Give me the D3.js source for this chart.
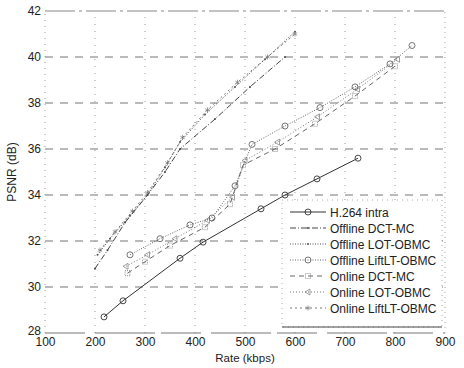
<!DOCTYPE html>
<html>
<head>
<meta charset="utf-8">
<script src="https://cdn.jsdelivr.net/npm/d3@7"></script>
<style>
  body { margin: 0; background: #fff; }
  text { font-family: "Liberation Sans", Arial, sans-serif; fill: #222; }
</style>
</head>
<body>
<div id="chart"></div>
<script>
// data
var xTicks = [100, 200, 300, 400, 500, 600, 700, 800, 900];
var yTicks = [28, 30, 32, 34, 36, 38, 40, 42];

var h264Rate = [218, 256, 370, 416, 532, 580, 644, 726];
var h264Psnr = [28.7, 29.4, 31.25, 31.95, 33.4, 34.0, 34.7, 35.6];

var offDctRate = [200, 225, 260, 305, 340, 370, 440, 510, 580];
var offDctPsnr = [30.8, 31.6, 32.8, 34.0, 35.0, 36.0, 37.3, 38.7, 40.0];

var offLotRate = [205, 230, 270, 305, 340, 370, 420, 480, 540, 600];
var offLotPsnr = [31.4, 32.1, 33.1, 34.0, 35.2, 36.3, 37.5, 38.7, 39.9, 41.1];

var offLiftRate = [270, 330, 390, 434, 480, 514, 580, 650, 720, 790, 834];
var offLiftPsnr = [31.4, 32.1, 32.7, 33.0, 34.4, 36.2, 37.0, 37.8, 38.7, 39.7, 40.5];

var onDctRate = [265, 300, 350, 420, 470, 496, 560, 640, 720, 800];
var onDctPsnr = [30.6, 31.1, 31.8, 32.6, 33.6, 35.3, 36.0, 37.1, 38.3, 39.6];

var onLotRate = [262, 305, 360, 425, 475, 500, 565, 645, 725, 805];
var onLotPsnr = [30.9, 31.4, 32.1, 32.9, 33.9, 35.5, 36.3, 37.4, 38.6, 39.9];

var onLiftRate = [210, 240, 275, 305, 345, 375, 425, 485, 545, 600];
var onLiftPsnr = [31.6, 32.4, 33.3, 34.1, 35.4, 36.5, 37.7, 38.9, 40.0, 41.0];

var names = ["H.264 intra", "Offline DCT-MC", "Offline LOT-OBMC", "Offline LiftLT-OBMC",
             "Online DCT-MC", "Online LOT-OBMC", "Online LiftLT-OBMC"];

var series = [
  {name: names[0], rate: h264Rate, psnr: h264Psnr, dash: null, marker: "circle", color: "#333"},
  {name: names[1], rate: offDctRate, psnr: offDctPsnr, dash: "6,2,1,2", marker: "dot", color: "#444"},
  {name: names[2], rate: offLotRate, psnr: offLotPsnr, dash: "1,1.5", marker: "dot", color: "#555"},
  {name: names[3], rate: offLiftRate, psnr: offLiftPsnr, dash: "1,1.5", marker: "circle", color: "#666"},
  {name: names[4], rate: onDctRate, psnr: onDctPsnr, dash: "5,4", marker: "square", color: "#666"},
  {name: names[5], rate: onLotRate, psnr: onLotPsnr, dash: "1,2", marker: "triangle", color: "#777"},
  {name: names[6], rate: onLiftRate, psnr: onLiftPsnr, dash: "2,3", marker: "star", color: "#777"}
];

var width = 464, height = 368;
var margin = {left: 45, right: 19, top: 11, bottom: 35};

var svg = d3.select("#chart").append("svg")
  .attr("width", width).attr("height", height);

var x = d3.scaleLinear().domain([100, 900]).range([margin.left, width - margin.right]);
var y = d3.scaleLinear().domain([28, 42]).range([height - margin.bottom, margin.top]);

// grid
svg.append("g").selectAll("line").data(yTicks.slice(1, -1)).enter().append("line")
  .attr("x1", x(100)).attr("x2", x(900))
  .attr("y1", function(d) { return y(d); }).attr("y2", function(d) { return y(d); })
  .attr("stroke", "#777").attr("stroke-width", 1.2).attr("stroke-dasharray", "8,7");
svg.append("g").selectAll("line").data(xTicks.slice(1, -1)).enter().append("line")
  .attr("y1", y(28)).attr("y2", y(42))
  .attr("x1", function(d) { return x(d); }).attr("x2", function(d) { return x(d); })
  .attr("stroke", "#999").attr("stroke-width", 1).attr("stroke-dasharray", "1,6");

// box
svg.append("line").attr("x1", x(100)).attr("x2", x(900)).attr("y1", y(42)).attr("y2", y(42))
  .attr("stroke", "#888").attr("stroke-width", 1.2).attr("stroke-dasharray", "30,4,3,4");
svg.append("line").attr("x1", x(100)).attr("x2", x(900)).attr("y1", y(28)).attr("y2", y(28))
  .attr("stroke", "#777").attr("stroke-width", 1).attr("stroke-dasharray", "40,10,60,6");
svg.append("line").attr("x1", x(100)).attr("x2", x(100)).attr("y1", y(28)).attr("y2", y(42))
  .attr("stroke", "#999").attr("stroke-width", 1).attr("stroke-dasharray", "1,5");
svg.append("line").attr("x1", x(900)).attr("x2", x(900)).attr("y1", y(28)).attr("y2", y(42))
  .attr("stroke", "#aaa").attr("stroke-width", 1).attr("stroke-dasharray", "1,4");

// axes
var xAxis = svg.append("g").attr("transform", "translate(0," + y(28) + ")")
  .call(d3.axisBottom(x).tickValues(xTicks).tickSize(0).tickPadding(4));
var yAxis = svg.append("g").attr("transform", "translate(" + (x(100) - 1) + ",0)")
  .call(d3.axisLeft(y).tickValues(yTicks).tickSize(0).tickPadding(3));
[xAxis, yAxis].forEach(function(a) {
  a.select(".domain").remove();
  a.selectAll("text").attr("font-size", 12).attr("fill", "#222")
    .attr("font-family", "'Liberation Sans', Arial, sans-serif");
});
// bottom-left y label sits a bit higher so it clears the "100"
yAxis.selectAll(".tick").filter(function(d) { return d === 28; })
  .select("text").attr("dy", "0.1em");

svg.append("text").attr("x", 245).attr("y", 362).attr("text-anchor", "middle")
  .attr("font-size", 11.5).text("Rate (kbps)");
svg.append("text").attr("transform", "translate(16,172) rotate(-90)")
  .attr("text-anchor", "middle").attr("font-size", 12).text("PSNR (dB)");

function drawMarker(g, type, cx, cy, color) {
  if (type === "circle") {
    g.append("circle").attr("cx", cx).attr("cy", cy).attr("r", 3)
      .attr("fill", "none").attr("stroke", color).attr("stroke-width", 0.9);
  } else if (type === "dot") {
    g.append("circle").attr("cx", cx).attr("cy", cy).attr("r", 1)
      .attr("fill", color);
  } else if (type === "square") {
    g.append("rect").attr("x", cx - 2.5).attr("y", cy - 2.5).attr("width", 5).attr("height", 5)
      .attr("fill", "none").attr("stroke", color).attr("stroke-width", 0.7).attr("stroke-dasharray", "1,1");
  } else if (type === "triangle") {
    g.append("path").attr("d", "M" + (cx - 3) + "," + cy + "L" + (cx + 2) + "," + (cy - 3) + "L" + (cx + 2) + "," + (cy + 3) + "Z")
      .attr("fill", "none").attr("stroke", color).attr("stroke-width", 0.7);
  } else if (type === "star") {
    g.append("path").attr("d", d3.symbol().type(d3.symbolAsterisk || d3.symbolCross).size(18)())
      .attr("transform", "translate(" + cx + "," + cy + ")")
      .attr("fill", "none").attr("stroke", color).attr("stroke-width", 0.7);
  }
}

var line = d3.line().x(function(d) { return x(d[0]); }).y(function(d) { return y(d[1]); });

series.slice().reverse().forEach(function(s) {
  var pts = d3.zip(s.rate, s.psnr);
  var g = svg.append("g");
  g.append("path").datum(pts).attr("d", line)
    .attr("fill", "none").attr("stroke", s.color).attr("stroke-width", 1)
    .attr("stroke-dasharray", s.dash);
  pts.forEach(function(p) { drawMarker(g, s.marker, x(p[0]), y(p[1]), s.color); });
});

// legend
var lg = svg.append("g");
lg.append("rect").attr("x", 282).attr("y", 200).attr("width", 160).attr("height", 127)
  .attr("fill", "#fff").attr("stroke", "#999").attr("stroke-width", 0.8).attr("stroke-dasharray", "1,4");
lg.append("line").attr("x1", 282).attr("x2", 442).attr("y1", 327).attr("y2", 327)
  .attr("stroke", "#444").attr("stroke-width", 1);
series.forEach(function(s, i) {
  var ly = 212 + i * 16;
  lg.append("line").attr("x1", 290).attr("x2", 326).attr("y1", ly).attr("y2", ly)
    .attr("stroke", s.color).attr("stroke-width", 1).attr("stroke-dasharray", s.dash);
  drawMarker(lg, s.marker, 308, ly, s.color);
  lg.append("text").attr("x", 330).attr("y", ly + 4.5).attr("font-size", 12).text(s.name);
});
</script>
</body>
</html>
